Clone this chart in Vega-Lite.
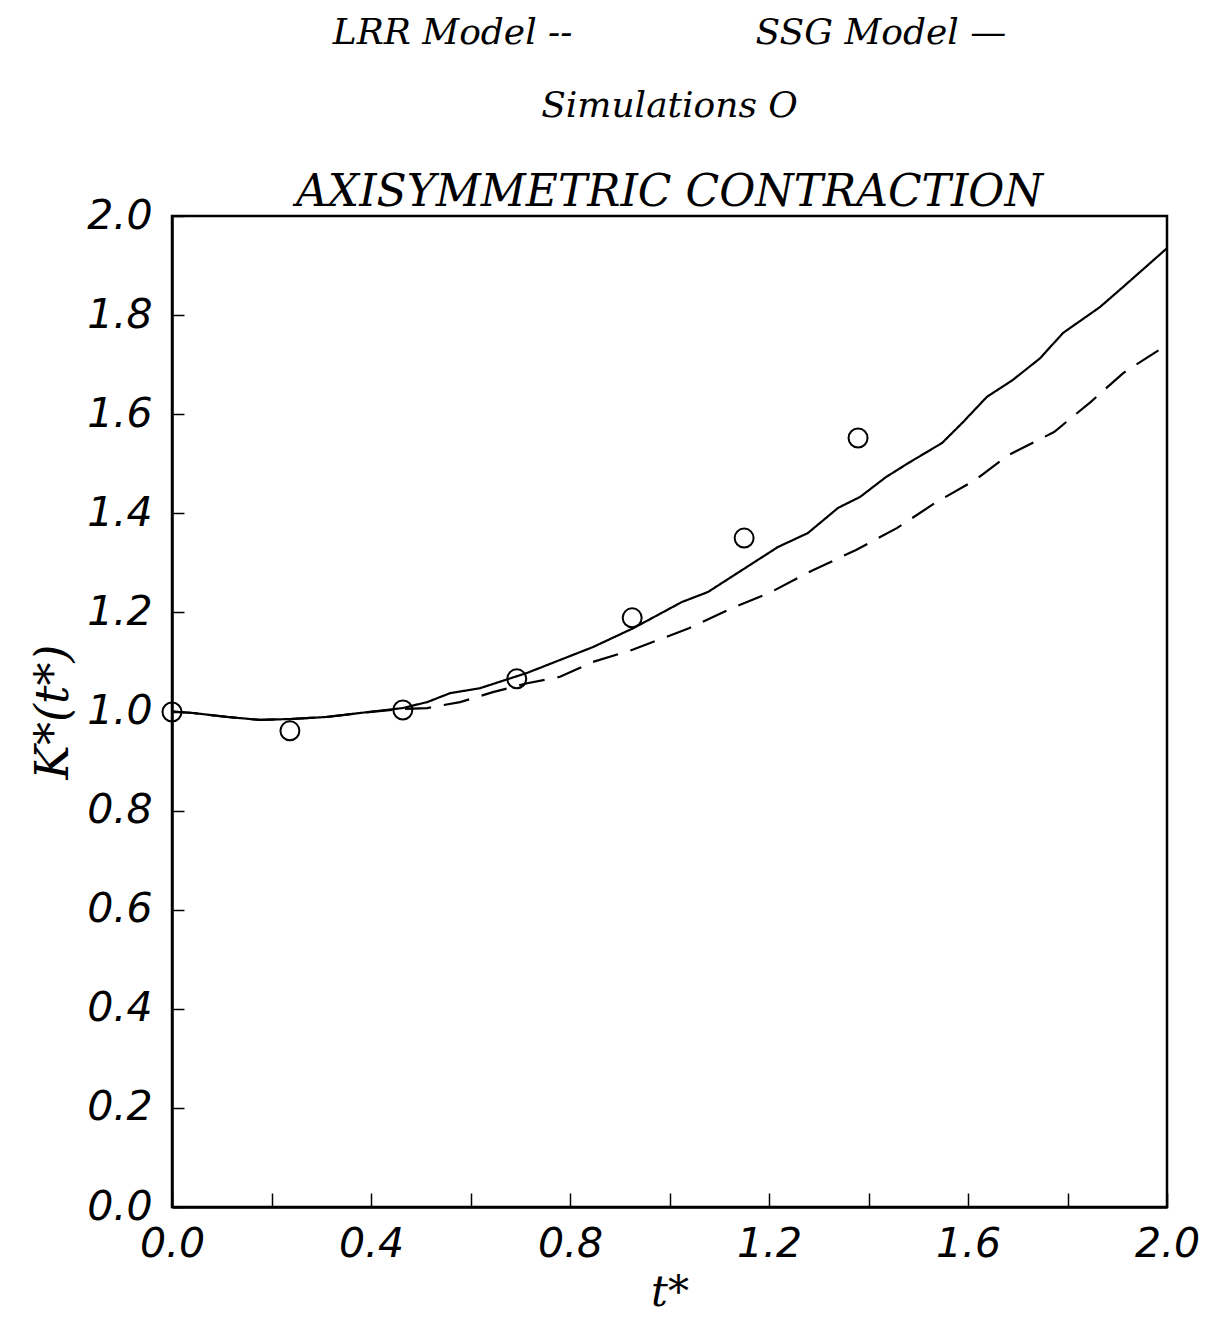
{
  "$schema": "https://vega.github.io/schema/vega-lite/v6.json",
  "autosize": {"type": "none"},
  "padding": {"left": 172, "top": 216, "right": 43, "bottom": 118},
  "width": 995,
  "height": 991,
  "background": "white",
  "config": {
    "view": {"stroke": "black", "strokeWidth": 2.5},
    "axis": {"grid": false}
  },
  "title": {
    "text": ["LRR Model --\u00a0\u00a0\u00a0\u00a0\u00a0\u00a0\u00a0\u00a0\u00a0\u00a0\u00a0\u00a0\u00a0\u00a0\u00a0\u00a0SSG Model —", "Simulations O"],
    "subtitle": "AXISYMMETRIC CONTRACTION",
    "anchor": "middle",
    "font": "DejaVu Serif",
    "fontStyle": "italic",
    "fontWeight": "normal",
    "fontSize": 36,
    "lineHeight": 73,
    "color": "black",
    "subtitleFont": "DejaVu Serif",
    "subtitleFontStyle": "italic",
    "subtitleFontWeight": "normal",
    "subtitleFontSize": 44,
    "subtitleColor": "black",
    "subtitlePadding": 46,
    "offset": -21,
    "dx": 0
  },
  "datasets": {
    "models": [
      {"t": 0.0, "K": 1.0, "model": "SSG"},
      {"t": 0.042, "K": 0.997, "model": "SSG"},
      {"t": 0.111, "K": 0.989, "model": "SSG"},
      {"t": 0.177, "K": 0.983, "model": "SSG"},
      {"t": 0.243, "K": 0.985, "model": "SSG"},
      {"t": 0.311, "K": 0.989, "model": "SSG"},
      {"t": 0.378, "K": 0.997, "model": "SSG"},
      {"t": 0.464, "K": 1.007, "model": "SSG"},
      {"t": 0.513, "K": 1.019, "model": "SSG"},
      {"t": 0.559, "K": 1.037, "model": "SSG"},
      {"t": 0.619, "K": 1.047, "model": "SSG"},
      {"t": 0.714, "K": 1.078, "model": "SSG"},
      {"t": 0.78, "K": 1.104, "model": "SSG"},
      {"t": 0.846, "K": 1.13, "model": "SSG"},
      {"t": 0.927, "K": 1.168, "model": "SSG"},
      {"t": 1.025, "K": 1.221, "model": "SSG"},
      {"t": 1.077, "K": 1.241, "model": "SSG"},
      {"t": 1.218, "K": 1.332, "model": "SSG"},
      {"t": 1.278, "K": 1.36, "model": "SSG"},
      {"t": 1.339, "K": 1.411, "model": "SSG"},
      {"t": 1.383, "K": 1.433, "model": "SSG"},
      {"t": 1.435, "K": 1.473, "model": "SSG"},
      {"t": 1.481, "K": 1.502, "model": "SSG"},
      {"t": 1.548, "K": 1.542, "model": "SSG"},
      {"t": 1.59, "K": 1.584, "model": "SSG"},
      {"t": 1.638, "K": 1.635, "model": "SSG"},
      {"t": 1.69, "K": 1.669, "model": "SSG"},
      {"t": 1.745, "K": 1.713, "model": "SSG"},
      {"t": 1.791, "K": 1.764, "model": "SSG"},
      {"t": 1.865, "K": 1.816, "model": "SSG"},
      {"t": 1.912, "K": 1.857, "model": "SSG"},
      {"t": 2.0, "K": 1.935, "model": "SSG"},
      {"t": 0.0, "K": 1.0, "model": "LRR"},
      {"t": 0.042, "K": 0.997, "model": "LRR"},
      {"t": 0.111, "K": 0.989, "model": "LRR"},
      {"t": 0.177, "K": 0.983, "model": "LRR"},
      {"t": 0.243, "K": 0.985, "model": "LRR"},
      {"t": 0.311, "K": 0.989, "model": "LRR"},
      {"t": 0.378, "K": 0.997, "model": "LRR"},
      {"t": 0.464, "K": 1.005, "model": "LRR"},
      {"t": 0.513, "K": 1.007, "model": "LRR"},
      {"t": 0.579, "K": 1.019, "model": "LRR"},
      {"t": 0.645, "K": 1.039, "model": "LRR"},
      {"t": 0.714, "K": 1.057, "model": "LRR"},
      {"t": 0.78, "K": 1.07, "model": "LRR"},
      {"t": 0.846, "K": 1.1, "model": "LRR"},
      {"t": 0.927, "K": 1.125, "model": "LRR"},
      {"t": 1.039, "K": 1.168, "model": "LRR"},
      {"t": 1.122, "K": 1.207, "model": "LRR"},
      {"t": 1.204, "K": 1.241, "model": "LRR"},
      {"t": 1.286, "K": 1.284, "model": "LRR"},
      {"t": 1.375, "K": 1.326, "model": "LRR"},
      {"t": 1.457, "K": 1.37, "model": "LRR"},
      {"t": 1.534, "K": 1.421, "model": "LRR"},
      {"t": 1.614, "K": 1.467, "model": "LRR"},
      {"t": 1.682, "K": 1.518, "model": "LRR"},
      {"t": 1.773, "K": 1.564, "model": "LRR"},
      {"t": 1.847, "K": 1.625, "model": "LRR"},
      {"t": 1.912, "K": 1.683, "model": "LRR"},
      {"t": 2.0, "K": 1.74, "model": "LRR"}
    ],
    "sims": [
      {"t": 0.0, "K": 0.999},
      {"t": 0.237, "K": 0.961},
      {"t": 0.464, "K": 1.003},
      {"t": 0.693, "K": 1.066},
      {"t": 0.925, "K": 1.189},
      {"t": 1.15, "K": 1.35},
      {"t": 1.379, "K": 1.552}
    ]
  },
  "layer": [
    {
      "data": {"name": "models"},
      "mark": {"type": "line", "color": "black", "strokeWidth": 2.2, "clip": true},
      "encoding": {
        "x": {
          "field": "t", "type": "quantitative",
          "scale": {"domain": [0, 2], "nice": false, "zero": false},
          "axis": {
            "values": [0, 0.2, 0.4, 0.6, 0.8, 1.0, 1.2, 1.4, 1.6, 1.8, 2.0],
            "labelExpr": "round(datum.value*5) % 2 == 0 ? format(datum.value, '.1f') : ''",
            "title": "t*",
            "titleFont": "DejaVu Serif", "titleFontStyle": "italic", "titleFontWeight": "normal",
            "titleFontSize": 42, "titleColor": "black", "titlePadding": 8,
            "labelFont": "DejaVu Sans", "labelFontStyle": "italic", "labelFontSize": 41,
            "labelColor": "black", "labelPadding": 31, "labelFlush": false, "labelOverlap": false,
            "tickSize": -14, "tickColor": "black", "tickWidth": 1.5,
            "domainColor": "black", "domainWidth": 2.5
          }
        },
        "y": {
          "field": "K", "type": "quantitative",
          "scale": {"domain": [0, 2], "nice": false, "zero": false},
          "axis": {
            "values": [0, 0.2, 0.4, 0.6, 0.8, 1.0, 1.2, 1.4, 1.6, 1.8, 2.0],
            "format": ".1f",
            "title": "K*(t*)",
            "titleFont": "DejaVu Serif", "titleFontStyle": "italic", "titleFontWeight": "normal",
            "titleFontSize": 46, "titleColor": "black", "titlePadding": 9,
            "labelFont": "DejaVu Sans", "labelFontStyle": "italic", "labelFontSize": 41,
            "labelColor": "black", "labelPadding": 32, "labelFlush": false, "labelOverlap": false,
            "tickSize": -12, "tickColor": "black", "tickWidth": 1.5,
            "domainColor": "black", "domainWidth": 2.5
          }
        },
        "strokeDash": {
          "field": "model", "type": "nominal",
          "scale": {"domain": ["LRR", "SSG"], "range": [[26, 13], [1, 0]]},
          "legend": null
        }
      }
    },
    {
      "data": {"name": "sims"},
      "mark": {"type": "point", "shape": "circle", "filled": false, "color": "black", "opacity": 1, "strokeWidth": 2, "size": 360, "clip": false},
      "encoding": {
        "x": {"field": "t", "type": "quantitative"},
        "y": {"field": "K", "type": "quantitative"}
      }
    }
  ]
}
